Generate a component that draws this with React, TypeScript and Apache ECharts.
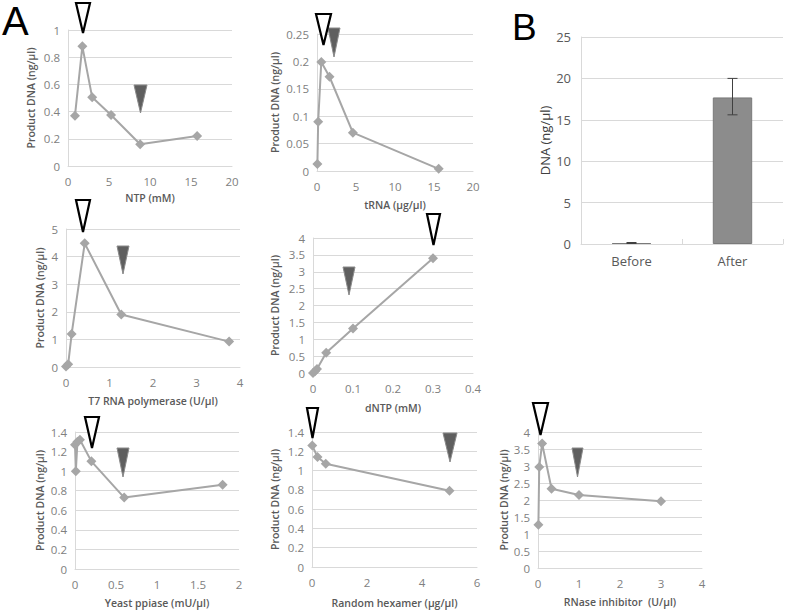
import React, { useEffect, useRef } from "react";
import * as echarts from "echarts";

// ---- data ----
const ntpX = [0.85, 1.75, 2.95, 5.25, 8.8, 15.75];
const ntpY = [0.37, 0.88, 0.505, 0.375, 0.16, 0.22];
const trnaX = [0.05, 0.15, 0.55, 1.6, 4.6, 15.6];
const trnaY = [0.013, 0.09, 0.199, 0.172, 0.07, 0.004];
const t7X = [0.0, 0.05, 0.13, 0.43, 1.27, 3.75];
const t7Y = [0.02, 0.1, 1.2, 4.48, 1.9, 0.92];
const dntpX = [0, 0.005, 0.01, 0.033, 0.1, 0.3];
const dntpY = [0, 0.05, 0.12, 0.6, 1.32, 3.4];
const ppiX = [0, 0.01, 0.03, 0.06, 0.2, 0.6, 1.8];
const ppiY = [1.27, 1.0, 1.3, 1.32, 1.1, 0.73, 0.86];
const hexX = [0.01, 0.2, 0.5, 5];
const hexY = [1.26, 1.14, 1.07, 0.79];
const rnaseX = [0.01, 0.03, 0.1, 0.33, 1, 3];
const rnaseY = [1.27, 2.97, 3.66, 2.33, 2.15, 1.96];

const barCats = ["Before", "After"];
const barVals = [0.12, 17.7];
const barErrLow = [0.06, 15.6];
const barErrHigh = [0.18, 20.0];

// ---- panel layout ----
type Panel = {
  xs: number[]; ys: number[];
  left: number; top: number; w: number; h: number;
  xMax: number; xInt: number; yMax: number; yInt: number;
  xName: string; xGap: number; yGap: number;
};

const panels: Panel[] = [
  { xs: ntpX, ys: ntpY, left: 68, top: 30, w: 164, h: 136, xMax: 20, xInt: 5, yMax: 1, yInt: 0.2, xName: "NTP (mM)", xGap: 26, yGap: 32 },
  { xs: trnaX, ys: trnaY, left: 317, top: 34, w: 156, h: 137, xMax: 20, xInt: 5, yMax: 0.25, yInt: 0.05, xName: "tRNA (µg/µl)", xGap: 28, yGap: 37 },
  { xs: t7X, ys: t7Y, left: 66, top: 229, w: 174, h: 138, xMax: 4, xInt: 1, yMax: 5, yInt: 1, xName: "T7 RNA polymerase (U/µl)", xGap: 28, yGap: 21 },
  { xs: dntpX, ys: dntpY, left: 313, top: 238, w: 160, h: 135, xMax: 0.4, xInt: 0.1, yMax: 4, yInt: 0.5, xName: "dNTP (mM)", xGap: 29, yGap: 33 },
  { xs: ppiX, ys: ppiY, left: 75, top: 432, w: 164, h: 137, xMax: 2, xInt: 0.5, yMax: 1.4, yInt: 0.2, xName: "Yeast ppiase (mU/µl)", xGap: 28, yGap: 30 },
  { xs: hexX, ys: hexY, left: 312, top: 432, w: 165, h: 135, xMax: 6, xInt: 2, yMax: 1.4, yInt: 0.2, xName: "Random hexamer (µg/µl)", xGap: 30, yGap: 32 },
  { xs: rnaseX, ys: rnaseY, left: 538, top: 432, w: 164, h: 136, xMax: 4, xInt: 1, yMax: 4, yInt: 0.5, xName: "RNase inhibitor  (U/µl)", xGap: 28, yGap: 25 },
];

// annotation arrows (open = optimum, filled = standard)
const openTris = [
  [76, 3, 90, 83, 33], [316, 14, 331, 323.5, 45], [76, 200, 90, 83, 232],
  [427, 214, 440, 433.5, 245], [85, 417, 99, 92, 448], [307, 408, 318, 312.5, 438],
  [533, 403, 548, 540.5, 435],
];
const filledTris = [
  [134, 85, 147, 140.5, 113], [328, 28, 340, 334, 57], [117, 246, 129, 123, 274],
  [343, 267, 355, 349, 295], [117, 448, 129, 123, 477], [443, 433, 457, 450, 462],
  [572, 448, 583, 577.5, 477],
];

const FONT = "Open Sans";
const fmt = (v: number) => String(+(+v).toFixed(3));

export default function App() {
  const ref = useRef<HTMLDivElement>(null);
  useEffect(() => {
    if (!ref.current) return;
    const chart = echarts.init(ref.current, undefined, { renderer: "svg" });

    const grid: any[] = [];
    const xAxis: any[] = [];
    const yAxis: any[] = [];
    const series: any[] = [];

    panels.forEach((p, i) => {
      grid.push({ left: p.left, top: p.top, width: p.w, height: p.h, containLabel: false });
      xAxis.push({
        type: "value", gridIndex: i, min: 0, max: p.xMax, interval: p.xInt,
        name: p.xName, nameLocation: "middle", nameGap: p.xGap,
        nameTextStyle: { color: "#595959", fontSize: 10.5, fontWeight: 600, fontFamily: FONT },
        axisLine: { show: true, lineStyle: { color: "#d9d9d9" } },
        axisTick: { show: false },
        splitLine: { show: false },
        axisLabel: { color: "#808080", fontSize: 11.5, fontFamily: FONT, margin: 9, formatter: fmt },
      });
      yAxis.push({
        type: "value", gridIndex: i, min: 0, max: p.yMax, interval: p.yInt,
        name: "Product DNA (ng/µl)", nameLocation: "middle", nameGap: p.yGap,
        nameTextStyle: { color: "#595959", fontSize: 10.5, fontWeight: 600, fontFamily: FONT },
        axisLine: { show: true, lineStyle: { color: "#d9d9d9" } },
        axisTick: { show: false },
        splitLine: { show: true, lineStyle: { color: "#d9d9d9" } },
        axisLabel: { color: "#808080", fontSize: 11.5, fontFamily: FONT, margin: 8, formatter: fmt },
      });
      series.push({
        type: "line", xAxisIndex: i, yAxisIndex: i,
        data: p.xs.map((x, k) => [x, p.ys[k]]),
        symbol: "diamond", symbolSize: 10, showSymbol: true,
        lineStyle: { color: "#a6a6a6", width: 2 },
        itemStyle: { color: "#a6a6a6" },
        clip: false,
      });
    });

    // bar panel B
    const bi = panels.length;
    grid.push({ left: 581, top: 37, width: 202, height: 207 });
    xAxis.push({
      type: "category", gridIndex: bi, data: barCats,
      axisLine: { show: true, lineStyle: { color: "#d9d9d9" } },
      axisTick: { show: true, inside: true, length: 5, lineStyle: { color: "#d9d9d9" } },
      axisLabel: { color: "#595959", fontSize: 13, fontFamily: FONT, margin: 10 },
    });
    yAxis.push({
      type: "value", gridIndex: bi, min: 0, max: 25, interval: 5,
      name: "DNA (ng/µl)", nameLocation: "middle", nameGap: 30,
      nameTextStyle: { color: "#404040", fontSize: 13, fontFamily: FONT },
      axisLine: { show: true, lineStyle: { color: "#d9d9d9" } },
      axisTick: { show: false },
      splitLine: { show: true, lineStyle: { color: "#d9d9d9" } },
      axisLabel: { color: "#595959", fontSize: 13, fontFamily: FONT, margin: 10 },
    });
    series.push({
      type: "bar", xAxisIndex: bi, yAxisIndex: bi, data: barVals,
      barWidth: "39%",
      itemStyle: { color: "#8c8c8c", borderColor: "#7a7a7a", borderWidth: 1 },
    });
    series.push({
      type: "custom", xAxisIndex: bi, yAxisIndex: bi,
      data: barCats.map((_, k) => [k, barErrLow[k], barErrHigh[k]]),
      renderItem: (params: any, api: any) => {
        const x = api.value(0);
        const lo = api.coord([x, api.value(1)]);
        const hi = api.coord([x, api.value(2)]);
        const cap = 5;
        const st = { stroke: "#404040", lineWidth: 1 };
        return {
          type: "group",
          children: [
            { type: "line", shape: { x1: lo[0], y1: lo[1], x2: hi[0], y2: hi[1] }, style: st },
            { type: "line", shape: { x1: lo[0] - cap, y1: lo[1], x2: lo[0] + cap, y2: lo[1] }, style: st },
            { type: "line", shape: { x1: hi[0] - cap, y1: hi[1], x2: hi[0] + cap, y2: hi[1] }, style: st },
          ],
        };
      },
      z: 5,
    });

    const graphic: any[] = [];
    openTris.forEach((t) => {
      graphic.push({
        type: "polygon", z: 100,
        shape: { points: [[t[0], t[1]], [t[2], t[1]], [t[3], t[4]]] },
        style: { fill: "#ffffff", stroke: "#000000", lineWidth: 2.2 },
      });
    });
    filledTris.forEach((t) => {
      graphic.push({
        type: "polygon", z: 99,
        shape: { points: [[t[0], t[1]], [t[2], t[1]], [t[3], t[4]]] },
        style: { fill: "#5f5f5f", stroke: "#8a8a8a", lineWidth: 1 },
      });
    });
    graphic.push({ type: "text", left: 2, top: 1, style: { text: "A", fontSize: 40, fontFamily: "Liberation Sans", fill: "#000" } });
    graphic.push({ type: "text", left: 512, top: 9, style: { text: "B", fontSize: 37, fontFamily: "Liberation Sans", fill: "#000" } });

    chart.setOption({
      animation: false,
      backgroundColor: "#ffffff",
      grid, xAxis, yAxis, series, graphic,
    });
    return () => chart.dispose();
  }, []);
  return (
    <div
      ref={ref}
      style={{ position: "fixed", left: 0, top: 0, width: 787, height: 613 }}
    />
  );
}
